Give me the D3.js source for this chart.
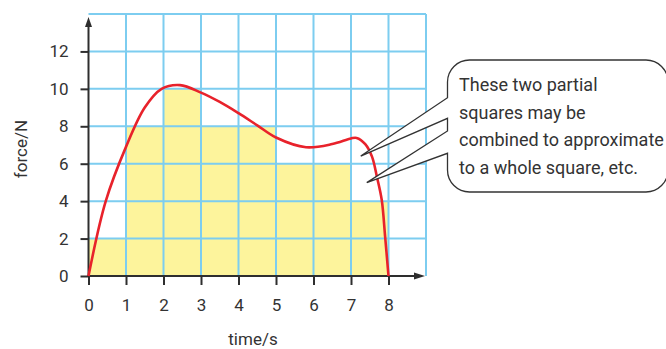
<!DOCTYPE html>
<html>
<head>
<meta charset="utf-8">
<script src="https://cdn.jsdelivr.net/npm/d3@7"></script>
<style>
  html, body { margin: 0; padding: 0; background: #fff; }
  svg { display: block; }
  text { font-family: Roboto, "Open Sans", sans-serif; fill: #333; }
</style>
</head>
<body>
<svg id="chart" width="666" height="349"></svg>
<script>
// ---- data ----
const timeTicks = [0, 1, 2, 3, 4, 5, 6, 7, 8];
const forceTicks = [0, 2, 4, 6, 8, 10, 12];
const curveTime  = [0, 0.46, 1, 1.5, 1.95, 2.44, 3, 3.5, 4, 4.5, 5, 5.8, 6.5, 7, 7.15, 7.38, 7.56, 7.69, 7.82, 7.91, 8];
const curveForce = [0, 4, 6.9, 9.0, 10, 10.2, 9.8, 9.3, 8.7, 8.05, 7.4, 6.88, 7.05, 7.35, 7.38, 7.05, 6.38, 5.31, 4.06, 2.1, 0];
const blockStart  = [0, 1, 2, 3, 4, 5, 6, 7];
const blockHeight = [2, 8, 10, 8, 8, 6, 6, 4];
const calloutLines = ["These two partial", "squares may be", "combined to approximate", "to a whole square, etc."];
const pointerTime  = [7.26, 7.42];
const pointerForce = [6.41, 4.99];
const xLabel = "time/s";
const yLabel = "force/N";

// ---- layout ----
const svg = d3.select("#chart");
const x = d3.scaleLinear().domain([0, 9]).range([88.5, 426]);
const y = d3.scaleLinear().domain([0, 14]).range([276, 14]);
const BLUE = "#7dcdf0", YELLOW = "#fdf49c", RED = "#e8222b", AX = "#2e2e2e";

// yellow blocks
svg.append("g").selectAll("rect")
  .data(blockStart.map((s, i) => ({ s, h: blockHeight[i] })))
  .join("rect")
  .attr("x", d => x(d.s))
  .attr("width", d => x(d.s + 1) - x(d.s))
  .attr("y", d => y(d.h))
  .attr("height", d => y(0) - y(d.h))
  .attr("fill", YELLOW);

// grid
const grid = svg.append("g").attr("stroke", BLUE).attr("stroke-width", 2);
d3.range(1, 10).forEach(v => {
  grid.append("line").attr("x1", x(v)).attr("x2", x(v)).attr("y1", y(0)).attr("y2", y(14));
});
d3.range(2, 15, 2).forEach(v => {
  grid.append("line").attr("x1", x(0)).attr("x2", x(9)).attr("y1", y(v)).attr("y2", y(v));
});

// axes
const yAxis = d3.axisLeft(y).tickValues(forceTicks).tickSize(8).tickPadding(12).tickSizeOuter(0);
const xAxis = d3.axisBottom(x).tickValues(timeTicks).tickSize(9).tickPadding(14).tickSizeOuter(0);
const gy = svg.append("g").attr("transform", `translate(${x(0)},0)`).call(yAxis);
const gx = svg.append("g").attr("transform", `translate(0,${y(0)})`).call(xAxis);
[gx, gy].forEach(g => {
  g.select(".domain").remove();
  g.selectAll(".tick line").attr("stroke", AX).attr("stroke-width", 2);
  g.selectAll(".tick text").attr("font-size", 17).attr("fill", "#333")
    .style("font-family", "Roboto, sans-serif");
});

// axis lines with arrows
svg.append("line").attr("x1", x(0)).attr("x2", x(0)).attr("y1", y(0) + 1).attr("y2", y(13.4))
  .attr("stroke", AX).attr("stroke-width", 2);
svg.append("path").attr("fill", AX)
  .attr("d", `M${x(0)},${y(14) + 3} L${x(0) - 3.5},${y(14) + 13} L${x(0) + 3.5},${y(14) + 13} Z`);
svg.append("line").attr("x1", x(0) - 1).attr("x2", x(8.75)).attr("y1", y(0)).attr("y2", y(0))
  .attr("stroke", AX).attr("stroke-width", 2);
svg.append("path").attr("fill", AX)
  .attr("d", `M${x(9) - 1},${y(0)} L${x(9) - 12},${y(0) - 3.5} L${x(9) - 12},${y(0) + 3.5} Z`);

// curve
const line = d3.line().x(d => x(d[0])).y(d => y(d[1])).curve(d3.curveCatmullRom.alpha(0.5));
svg.append("path")
  .datum(curveTime.map((t, i) => [t, curveForce[i]]))
  .attr("d", line)
  .attr("fill", "none")
  .attr("stroke", RED)
  .attr("stroke-width", 2.6)
  .attr("stroke-linejoin", "round");

// axis labels
svg.append("text").attr("x", 253).attr("y", 345).attr("text-anchor", "middle")
  .attr("font-size", 17).text(xLabel);
svg.append("text").attr("transform", "translate(27,149) rotate(-90)").attr("text-anchor", "middle")
  .attr("font-size", 17).text(yLabel);

// callout
const L = 447.5, T = 60, R = 668, B = 192, r = 22;
const tip1 = [x(pointerTime[0]), y(pointerForce[0])];
const tip2 = [x(pointerTime[1]), y(pointerForce[1])];
const bubble = `M${L + r},${T} H${R - r} A${r},${r} 0 0 1 ${R},${T + r} V${B - r} A${r},${r} 0 0 1 ${R - r},${B}
  H${L + r} A${r},${r} 0 0 1 ${L},${B - r} V153.3 L${tip2[0]},${tip2[1]} L${L},131 V118.3
  L${tip1[0]},${tip1[1]} L${L},97.7 V${T + r} A${r},${r} 0 0 1 ${L + r},${T} Z`;
svg.append("path").attr("d", bubble).attr("fill", "#fff").attr("stroke", "#333").attr("stroke-width", 1.3)
  .attr("stroke-linejoin", "miter");
svg.append("g").selectAll("text").data(calloutLines).join("text")
  .attr("x", 459).attr("y", (d, i) => 91 + i * 27.5)
  .attr("font-size", 18).text(d => d);
</script>
</body>
</html>
